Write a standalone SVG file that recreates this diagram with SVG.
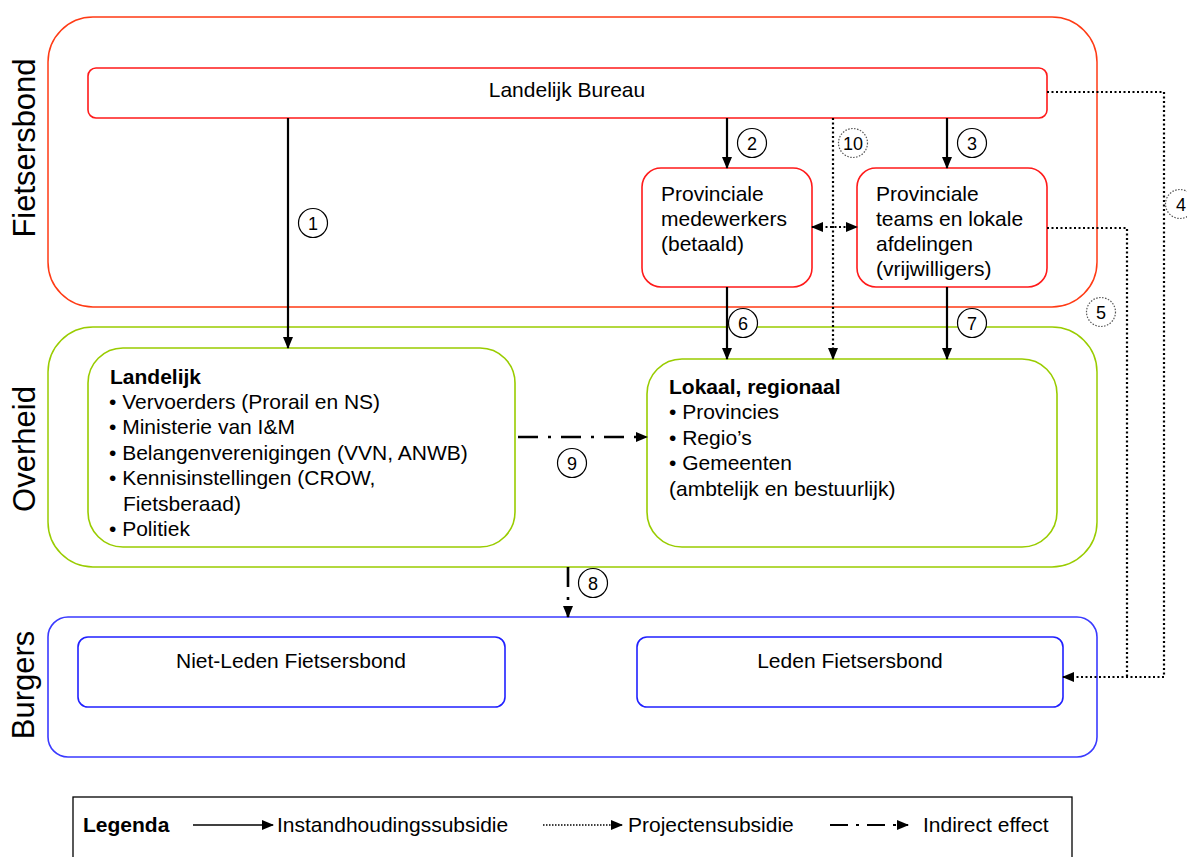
<svg xmlns="http://www.w3.org/2000/svg" width="1187" height="857" viewBox="0 0 1187 857">
<style>
text{font-family:"Liberation Sans",Arial,sans-serif;fill:#000}
.t{font-size:21px}
.b{font-weight:bold}
.side{font-size:31px}
.num{font-size:18px;text-anchor:middle}
.fb{fill:none;stroke:#ff3a14;stroke-width:1.5}
.fbi{fill:#fff;stroke:#ff1a1a;stroke-width:1.6}
.ov{fill:none;stroke:#99cc00;stroke-width:1.5}
.ovi{fill:#fff;stroke:#99cc00;stroke-width:1.6}
.bu{fill:none;stroke:#3a3aff;stroke-width:1.6}
.bui{fill:#fff;stroke:#2020ff;stroke-width:1.6}
.solid{stroke:#000;stroke-width:2.2;fill:none}
.dot{stroke:#000;stroke-width:2.2;fill:none;stroke-dasharray:2 2.5}
.dd{stroke:#000;stroke-width:2.6;fill:none;stroke-dasharray:20 10 3 10}
.c{fill:#fff;stroke:#000;stroke-width:1.2}
.cd{fill:#fff;stroke:#555;stroke-width:1.2;stroke-dasharray:1.5 1.5}
</style>
<defs>
<marker id="ah" markerUnits="userSpaceOnUse" markerWidth="12" markerHeight="10" refX="11" refY="5" orient="auto-start-reverse" viewBox="0 0 12 10">
<path d="M0,0 L12,5 L0,10 z" fill="#000"/>
</marker>
</defs>

<g id="fietsersbond">
<rect class="fb" x="48" y="17" width="1049" height="290" rx="45"/>
<text class="side" transform="translate(35,148) rotate(-90)" text-anchor="middle">Fietsersbond</text>
</g>
<g id="overheid">
<rect class="ov" x="48" y="327" width="1049" height="240" rx="45"/>
<text class="side" transform="translate(35,449) rotate(-90)" text-anchor="middle">Overheid</text>
</g>
<g id="burgers">
<rect class="bu" x="48" y="617" width="1049" height="140" rx="20"/>
<text class="side" transform="translate(34,685) rotate(-90)" text-anchor="middle">Burgers</text>
</g>

<g id="landelijk-bureau">
<rect class="fbi" x="88" y="68" width="959" height="50" rx="8"/>
<text class="t" x="567" y="97" text-anchor="middle">Landelijk Bureau</text>
</g>
<g id="provinciale-medewerkers">
<rect class="fbi" x="642" y="168" width="170" height="119" rx="19"/>
<text class="t" x="661" y="201">Provinciale</text>
<text class="t" x="661" y="226">medewerkers</text>
<text class="t" x="661" y="251">(betaald)</text>
</g>
<g id="provinciale-teams">
<rect class="fbi" x="857" y="168" width="190" height="119" rx="19"/>
<text class="t" x="876" y="201">Provinciale</text>
<text class="t" x="876" y="226">teams en lokale</text>
<text class="t" x="876" y="251">afdelingen</text>
<text class="t" x="876" y="276">(vrijwilligers)</text>
</g>
<g id="landelijk">
<rect class="ovi" x="88" y="348" width="427" height="199" rx="35"/>
<text class="t b" x="110" y="384">Landelijk</text>
<text class="t" x="109" y="409">• Vervoerders (Prorail en NS)</text>
<text class="t" x="109" y="434">• Ministerie van I&amp;M</text>
<text class="t" x="109" y="460">• Belangenverenigingen (VVN, ANWB)</text>
<text class="t" x="109" y="485">• Kennisinstellingen (CROW,</text>
<text class="t" x="123" y="511">Fietsberaad)</text>
<text class="t" x="109" y="536">• Politiek</text>
</g>
<g id="lokaal">
<rect class="ovi" x="647" y="359" width="410" height="188" rx="35"/>
<text class="t b" x="669" y="394">Lokaal, regionaal</text>
<text class="t" x="669" y="419">• Provincies</text>
<text class="t" x="669" y="445">• Regio’s</text>
<text class="t" x="669" y="470">• Gemeenten</text>
<text class="t" x="669" y="496">(ambtelijk en bestuurlijk)</text>
</g>
<g id="niet-leden">
<rect class="bui" x="78" y="637" width="427" height="70" rx="10"/>
<text class="t" x="291" y="668" text-anchor="middle">Niet-Leden Fietsersbond</text>
</g>
<g id="leden">
<rect class="bui" x="637" y="637" width="426" height="70" rx="10"/>
<text class="t" x="850" y="668" text-anchor="middle">Leden Fietsersbond</text>
</g>

<g id="connectors">
<line class="solid" x1="288" y1="118" x2="288" y2="348" marker-end="url(#ah)"/>
<line class="solid" x1="727" y1="118" x2="727" y2="168" marker-end="url(#ah)"/>
<line class="solid" x1="947" y1="118" x2="947" y2="168" marker-end="url(#ah)"/>
<line class="dot" x1="833" y1="118" x2="833" y2="359" marker-end="url(#ah)"/>
<line class="dot" x1="812" y1="227" x2="857" y2="227" marker-start="url(#ah)" marker-end="url(#ah)"/>
<line class="solid" x1="727" y1="287" x2="727" y2="359" marker-end="url(#ah)"/>
<line class="solid" x1="947" y1="287" x2="947" y2="359" marker-end="url(#ah)"/>
<path class="dot" d="M1047,92 H1164 V677 H1063" marker-end="url(#ah)"/>
<path class="dot" d="M1047,228 H1127 V677"/>
<line class="dd" x1="518" y1="437" x2="647" y2="437" marker-end="url(#ah)"/>
<line class="dd" x1="568" y1="567" x2="568" y2="617" marker-end="url(#ah)"/>

<circle class="c" cx="313" cy="223" r="14.5"/><text class="num" x="313" y="229.5">1</text>
<circle class="c" cx="752" cy="143" r="14.5"/><text class="num" x="752" y="149.5">2</text>
<circle class="c" cx="972" cy="143" r="14.5"/><text class="num" x="972" y="149.5">3</text>
<circle class="cd" cx="1180" cy="204" r="14.5"/><text class="num" x="1181" y="210.5">4</text>
<circle class="cd" cx="1101" cy="312" r="14.5"/><text class="num" x="1101" y="318.5">5</text>
<circle class="c" cx="743" cy="323" r="14.5"/><text class="num" x="743" y="329.5">6</text>
<circle class="c" cx="972" cy="323" r="14.5"/><text class="num" x="972" y="329.5">7</text>
<circle class="c" cx="593" cy="583" r="14.5"/><text class="num" x="593" y="589.5">8</text>
<circle class="c" cx="572" cy="463" r="14.5"/><text class="num" x="572" y="469.5">9</text>
<circle class="cd" cx="853" cy="143" r="14.5"/><text class="num" x="853" y="149.5">10</text>
</g>

<g id="legend">
<rect x="73" y="797" width="999" height="80" fill="none" stroke="#000" stroke-width="1.3"/>
<text class="t b" x="83" y="832">Legenda</text>
<line x1="193" y1="825" x2="273" y2="825" stroke="#000" stroke-width="1.5" marker-end="url(#ah)"/>
<text class="t" x="277" y="832">Instandhoudingssubsidie</text>
<line x1="543" y1="825" x2="622" y2="825" stroke="#000" stroke-width="1.5" stroke-dasharray="1.5 1.5" marker-end="url(#ah)"/>
<text class="t" x="628" y="832">Projectensubsidie</text>
<line x1="830" y1="825" x2="908" y2="825" stroke="#000" stroke-width="2.2" stroke-dasharray="18 8 3 8" marker-end="url(#ah)"/>
<text class="t" x="923" y="832">Indirect effect</text>
</g>
</svg>
